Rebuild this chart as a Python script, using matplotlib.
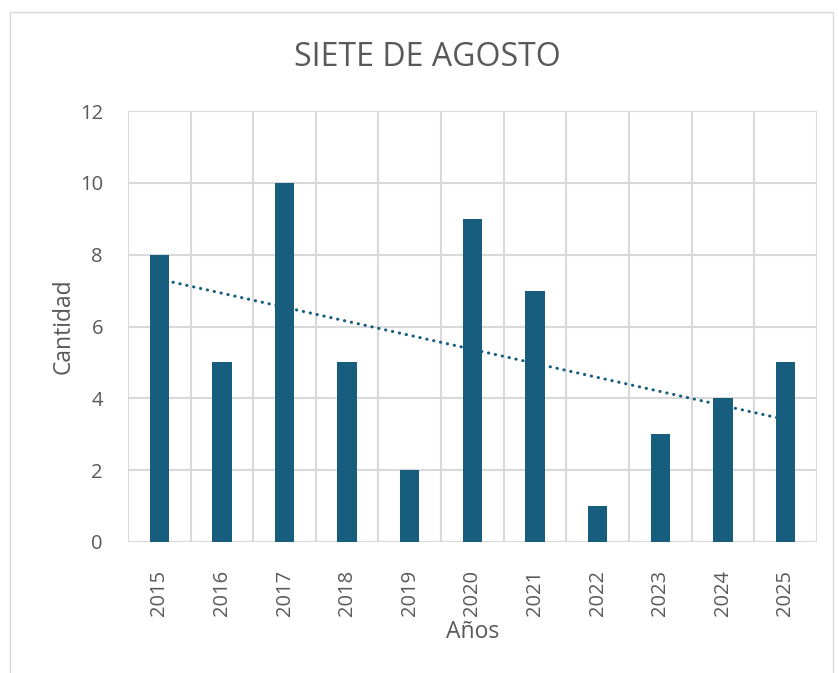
import numpy as np
import matplotlib
matplotlib.use("Agg")
import matplotlib.pyplot as plt
from matplotlib.patches import Rectangle

years = ["2015", "2016", "2017", "2018", "2019", "2020", "2021", "2022", "2023", "2024", "2025"]
cantidad = [8, 5, 10, 5, 2, 9, 7, 1, 3, 4, 5]

bar_color = "#175E7E"
grid_color = "#D9D9D9"
text_color = "#595959"

plt.rcParams["font.family"] = ["Open Sans", "DejaVu Sans"]

fig = plt.figure(figsize=(8.38, 6.73), dpi=100)
ax = fig.add_axes([0.1527, 0.1947, 0.822, 0.6403])

x = np.arange(len(years))
ax.bar(x, cantidad, width=0.31, color=bar_color, zorder=3)

# linear trend line
coef = np.polyfit(x, cantidad, 1)
ax.plot(x, np.polyval(coef, x), color=bar_color, lw=2.2, linestyle=(0, (0.1, 2.2)),
        dash_capstyle="round", zorder=4)

ax.set_xlim(-0.5, len(years) - 0.5)
ax.set_ylim(0, 12)
ax.set_yticks(range(0, 13, 2))
ax.set_xticks(x)
ax.set_xticklabels(years, rotation=90)

# grid: horizontal at ticks, vertical at category edges
for yv in range(0, 13, 2):
    ax.axhline(yv, color=grid_color, lw=1.5, zorder=1)
for xv in np.arange(-0.5, len(years), 1):
    ax.axvline(xv, color=grid_color, lw=1.5, zorder=1)

for s in ax.spines.values():
    s.set_visible(False)
ax.tick_params(axis="x", length=0, labelsize=14.5, colors=text_color, pad=20)
ax.tick_params(axis="y", length=0, labelsize=14.5, colors=text_color, pad=18)

fig.text(0.51, 0.915, "SIETE DE AGOSTO", fontsize=23, color=text_color,
         ha="center", va="center")
ax.set_ylabel("Cantidad", fontsize=16.5, color=text_color, labelpad=3)
ax.set_xlabel("Años", fontsize=16.5, color=text_color, labelpad=3)

fig.patches.append(Rectangle((0.012, -0.01), 0.982, 0.992, transform=fig.transFigure,
                             fill=False, edgecolor=grid_color, lw=1))

fig.savefig("out.png", dpi=100)
